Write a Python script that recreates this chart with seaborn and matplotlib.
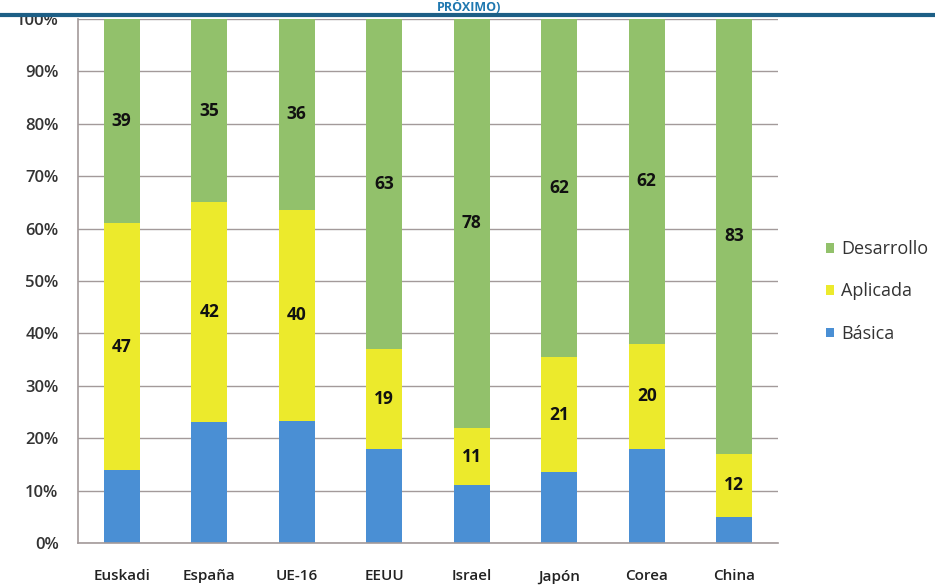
import matplotlib.pyplot as plt
import numpy as np
import pandas as pd
import seaborn as sns
from matplotlib.ticker import FixedLocator, PercentFormatter

paises = ["Euskadi", "España", "UE-16", "EEUU", "Israel", "Japón", "Corea", "China"]
basica = [14, 23, 23, 18, 11, 13, 18, 5]
aplicada = [47, 42, 40, 19, 11, 21, 20, 12]
desarrollo = [39, 35, 36, 63, 78, 62, 62, 83]

verde = "#92c16b"
amarillo = "#ecea2c"
azul = "#4a8fd4"
gris = "#a39a9a"

df = pd.DataFrame({"pais": paises, "Básica": basica, "Aplicada": aplicada, "Desarrollo": desarrollo})
total = df[["Básica", "Aplicada", "Desarrollo"]].sum(axis=1)
df["c_bas"] = df["Básica"] / total * 100
df["c_apl"] = df["c_bas"] + df["Aplicada"] / total * 100
df["c_des"] = df["c_apl"] + df["Desarrollo"] / total * 100

sns.set_style("white")
plt.rcParams["font.family"] = ["Open Sans", "DejaVu Sans"]

fig = plt.figure(figsize=(9.35, 5.85), dpi=100)
ax = fig.add_axes([0.0834, 0.0718, 0.7486, 0.8957])

ancho = 0.41
sns.barplot(data=df, x="pais", y="c_des", color=verde, width=ancho, saturation=1, ax=ax, label="Desarrollo")
sns.barplot(data=df, x="pais", y="c_apl", color=amarillo, width=ancho, saturation=1, ax=ax, label="Aplicada")
sns.barplot(data=df, x="pais", y="c_bas", color=azul, width=ancho, saturation=1, ax=ax, label="Básica")
for p in ax.patches:
    p.set_linewidth(0)

# etiquetas en el centro de los tramos amarillo y verde
for i, row in df.iterrows():
    ax.text(i, (row["c_bas"] + row["c_apl"]) / 2, f"{row['Aplicada']}", ha="center", va="center",
            fontsize=12.5, fontweight="bold", color="#111111")
    ax.text(i, (row["c_apl"] + row["c_des"]) / 2, f"{row['Desarrollo']}", ha="center", va="center",
            fontsize=12.5, fontweight="bold", color="#111111")

ax.set_xlim(-0.5, len(paises) - 0.5)
ax.set_ylim(0, 100)
ax.set_yticks(np.arange(0, 101, 10))
ax.yaxis.set_major_formatter(PercentFormatter(decimals=0))
ax.set_axisbelow(True)
ax.grid(axis="y", color=gris, linewidth=1)
ax.set_xlabel("")
ax.set_ylabel("")

for s in ["top", "right"]:
    ax.spines[s].set_visible(False)
for s in ["left", "bottom"]:
    ax.spines[s].set_color(gris)
    ax.spines[s].set_linewidth(1.2)

ax.tick_params(axis="y", length=10, width=1, color=gris, pad=4, labelsize=12, labelcolor="#333333")
ax.tick_params(axis="x", which="major", length=0, pad=19, labelsize=11, labelcolor="#222222")
ax.xaxis.set_minor_locator(FixedLocator(np.arange(-0.5, len(paises), 1)))
ax.tick_params(axis="x", which="minor", length=7, width=1, color=gris)
for lbl in ax.get_xticklabels():
    lbl.set_fontweight("semibold")
for lbl in ax.get_yticklabels():
    lbl.set_fontweight("semibold")

handles, labels = ax.get_legend_handles_labels()
ax.legend(handles, labels, loc="center left", bbox_to_anchor=(1.045, 0.48), frameon=False,
          fontsize=13, handlelength=0.45, handleheight=0.45, handletextpad=0.4, labelspacing=1.35,
          labelcolor="#333333")

# resto del titulo recortado y linea superior
fig.text(0.502, 0.9805, "PRÓXIMO)", ha="center", va="baseline", fontsize=9, fontweight="bold", color="#1f78b0")
fig.add_artist(plt.Line2D([0, 1], [0.975, 0.975], color="#1d5f86", linewidth=3, transform=fig.transFigure))

fig.savefig("out.png", dpi=100)
plt.close(fig)
